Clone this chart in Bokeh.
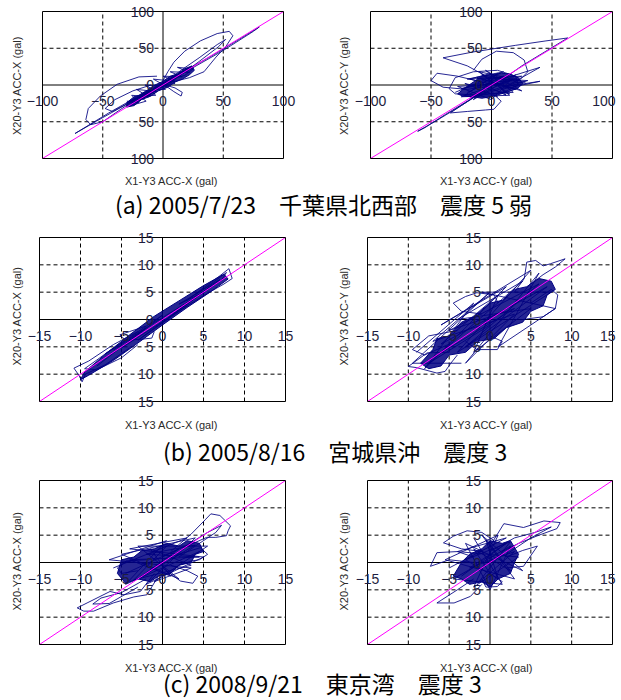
from bokeh.plotting import figure
from bokeh.layouts import column, row
from bokeh.models import (Div, LinearAxis, FixedTicker, Range1d, BoxAnnotation,
                          LabelSet, ColumnDataSource)
from bokeh.core.properties import value
from bokeh.embed import file_html
from bokeh.resources import INLINE

# ---------------- data ----------------
ticks_a = [-100, -50, 0, 50, 100]
grid_a = [-50, 50]
diag_a = [-100, 100]
ticks_bc = [-15, -10, -5, 0, 5, 10, 15]
grid_bc = [-10, -5, 5, 10]
diag_bc = [-15, 15]

captions = ["(a) 2005/7/23\u3000千葉県北西部\u3000震度 5 弱",
            "(b) 2005/8/16\u3000宮城県沖\u3000震度 3",
            "(c) 2008/9/21\u3000東京湾\u3000震度 3"]
xlabels = ["X1-Y3 ACC-X (gal)", "X1-Y3 ACC-Y (gal)", "X1-Y3 ACC-X (gal)",
           "X1-Y3 ACC-Y (gal)", "X1-Y3 ACC-X (gal)", "X1-Y3 ACC-X (gal)"]
ylabels = ["X20-Y3 ACC-X (gal)", "X20-Y3 ACC-Y (gal)", "X20-Y3 ACC-X (gal)",
           "X20-Y3 ACC-Y (gal)", "X20-Y3 ACC-X (gal)", "X20-Y3 ACC-X (gal)"]

# (a) X direction
ax_core_x = [-30, -24, -20, -12, -8, 0, 6, 12, 18, 24, 26, 22, 16, 10, 4, -4, -10, -18, -24, -30]
ax_core_y = [-24, -16, -14, -6, -1, 5, 12, 15, 22, 26, 20, 14, 8, 4, -3, -8, -15, -20, -28, -30]
ax_loops_x = [
    [-5, -30, -55, -73, -70, -45, -15, 15, 45, 70, 80, 75, 50, 20, -5],
    [0, 4, 9, 18, 31, 45, 55, 58, 52, 44, 40, 34, 22, 10, 0],
    [5, 15, 30, 45, 52, 46, 30, 15, 5],
    [-5, -20, -38, -52, -62, -64, -60, -50, -35, -20, -8, 0],
    [-10, -25, -40, -48, -42, -28, -12],
    [2, 10, 16, 15, 9, 3],
    [-25, -10, -28, 0, -18, 12, -8, 20, -2, 24, 5, 18, -12, 10, -20, 4, -26, -6, -30, -14, 8, -4, 15, 0, 22, 6],
    [-30, -20, -26, -12, -22, -5, -15, 3, -8, 10, 0, 16, 6, 22, 12, 25, 18, 5, 10, -3, 2, -12, -6, -20, -14, -27],
]
ax_loops_y = [
    [-3, -26, -49, -66, -63, -38, -10, 16, 44, 69, 79, 73, 47, 19, -3],
    [6, 18, 31, 46, 60, 70, 73, 67, 52, 38, 30, 18, 10, 5, 1],
    [8, 20, 37, 55, 62, 52, 32, 14, 4],
    [12, 11, 1, -15, -32, -47, -54, -50, -33, -17, -5, 3],
    [0, -8, -20, -32, -36, -24, -8],
    [0, -4, -10, -15, -9, -2],
    [-20, -12, -28, 2, -15, 14, -8, 22, -4, 25, 3, 20, -14, 12, -22, 6, -25, -8, -24, -12, 10, -2, 18, 0, 24, 2],
    [-22, -24, -14, -16, -6, -9, 0, -2, 8, 5, 12, 11, 18, 17, 24, 22, 13, 8, 2, 0, -6, -6, -14, -15, -22, -28],
]

# (a) Y direction
ay_core_x = [-28, -22, -15, -8, 0, 8, 15, 22, 26, 22, 16, 8, 0, -8, -16, -24]
ay_core_y = [-12, -4, 4, 12, 14, 16, 15, 10, 2, -4, -8, -12, -16, -18, -16, -15]
ay_loops_x = [
    [0, -20, -40, -15, 20, 45, 63, 45, 25, 8],
    [-15, -8, 4, 18, 27, 30, 24, 12, 0],
    [5, 40, 12, 40, 8],
    [-8, -28, -45, -50, -40, -20, -5],
    [-35, -30, -15, 5, 20, 22, 10, -10, -30, -35],
    [-8, -25, -45, -61, -55, -38, -18, -5],
    [-10, -25, -34, -20, -5, 2, 8, 0],
    [-20, 10, -25, 18, -15, 22, -8, 15, -22, 5, -12, 20, -18, 0, 12, -5],
    [-30, 10, -20, 25, -25, 15, -10, 28, -28, 0, 20, -15, 5, -22, 18, -5, 25, -12, 30, -18],
]
ay_loops_y = [
    [8, 26, 37, 45, 54, 60, 64, 46, 26, 6],
    [20, 35, 46, 44, 34, 18, 8, 4, 6],
    [6, 24, -2, 5, -6],
    [4, 12, 16, 6, -3, -6, -2],
    [-5, 10, 18, 20, 12, 0, -10, -14, -12, -5],
    [-10, -28, -48, -63, -58, -40, -20, -6],
    [-12, -28, -38, -36, -34, -33, -22, -10],
    [-10, 12, -5, 8, -15, 4, 14, -12, 2, -16, 10, -6, 8, 16, -14, 0],
    [-10, 18, 8, 12, -16, -14, 18, 4, -2, -20, 14, -20, 16, -14, -10, 20, -8, 10, 6, -18],
]

# (b) X direction
bx_core_x = [-9.5, -7, -4, -1, 2, 5, 7.5, 8, 6, 3, 0, -3, -6, -9, -10]
bx_core_y = [-9.6, -6.4, -2.8, 0.6, 3.4, 6.2, 8.3, 7.4, 5.2, 2.2, -1, -4.3, -7.5, -10.2, -11]
bx_loops_x = [
    [3, 5, 7, 8.1, 8.5, 7.5, 5.5, 3],
    [4, 6, 7.8, 7.2, 5, 3],
    [-3, -6, -9, -10.8, -10.2, -9.8, -9.4, -7, -4],
    [-2, -4, -5.2, -4.5, -2.5, -1.3, -1],
    [-6, -8, -9.5, -8, -5, -3],
    [-8, -2, -7, 0, -5, 3, -3, 6, 0, 7, 2, 5, -1, -6],
]
bx_loops_y = [
    [3.5, 5.8, 8.0, 9.3, 7.5, 6.5, 4.8, 2.5],
    [4.5, 6.6, 8.6, 7.2, 5.0, 2.8],
    [-2.2, -4.6, -7.6, -8.9, -10.2, -11.4, -10.0, -8.3, -5.2],
    [-1.2, -2.2, -2.8, -3.8, -3.6, -3.4, -2.2],
    [-5.2, -7.4, -9.0, -9.2, -7.0, -4.6],
    [-8.5, -1.5, -6.3, 0.8, -5.2, 2.5, -3.8, 6.2, -0.5, 7.3, 2.8, 5.0, -0.6, -5.6],
]

# (b) Y direction
by_core_x = [-8.5, -7, -6.5, -5, -3.5, -2, 0, 1.5, 3, 4.5, 6, 7.5, 8, 7, 6.5, 5, 4, 2, 0.5, -1.5, -3, -5, -6, -7.5]
by_core_y = [-8, -5.5, -3.5, -3, -0.5, 0.5, 3, 3.5, 5.5, 6, 7.5, 7, 5.5, 4.5, 2.5, 1.5, -0.5, -1.5, -3.5, -4, -6, -6.5, -8.5, -9]
by_loops_x = [
    [3, 4.2, 4.5, 5.6, 6.5, 7.4, 9.2, 8, 6.5, 5],
    [5, 7.5, 8.3, 8, 6.5, 4],
    [-1, -3.5, -4.5, -3, -1.6, 0.5, 1],
    [-4, -7.5, -9.5, -8, -5],
    [-5, -7.7, -10, -9, -6.5, -5.5, -4.8, -4],
    [-3, -1.6, 0.9, 1.5, 0],
    [-7, 3, -5, 6, -3, 7, -6, 1, -2, 5, -4, 4, -7.5, 0],
    [-9, -2, -8, 2, -6, 5, -4, 7.5, -1, 8, 1, 6, -3, 3, -7, 0, -9.5, -3.5],
]
by_loops_y = [
    [5, 7.5, 10.5, 10.8, 9.8, 10.2, 11.1, 9.6, 8.2, 6.5],
    [3, 5.5, 4.5, 2.0, 0.5, 0],
    [1, 1.5, 3, 4.2, 4.9, 4.5, 3],
    [-2, -3, -5.5, -6.5, -4.5],
    [-6, -6.1, -8.6, -8.8, -9.8, -9.5, -8, -6.5],
    [-4, -5.5, -5.5, -4, -3],
    [-7, 2, -2, 6.5, -5, 6, -4.5, 4.5, -6, 2, 0, 7, -8, -1],
    [-6, 3, -9, 6, -1, 9, -6, 5, 5, 2, -5, 8.5, -8, 1, -4, 5, -8, -8],
]

# (c) left
cx_core_x = [-5.5, -5, -3.5, -2.5, -1, 0.5, 2, 3, 4.5, 5, 4, 3.5, 2, 1, -0.5, -1.5, -3, -4.5]
cx_core_y = [-2, 0.5, 1, 2.2, 2.5, 3.5, 3, 4, 3.5, 2, 1.5, 0, -0.5, -2, -2.5, -3.5, -3, -3.8]
cx_loops_x = [
    [1, 3.5, 5.2, 5.9, 7, 8.3, 8.0, 7.8, 6.5, 5.4, 3, 1],
    [0, 3, 5.5, 7.2, 6.5, 4.5, 2],
    [2, 4.6, 5.5, 4.5, 3.6, 2],
    [0, 2.2, 3.7, 4.3, 3, 1],
    [-2, -4.4, -5.5, -5.0, -3],
    [-1, -2.7, -4.7, -6.4, -9.2, -10.4, -9.6, -8.4, -6, -3.5, -1.9, -0.5],
    [-2, -5, -7.5, -8.5, -6.5, -3],
    [-4.5, 2, -3, 4, -2, 4.5, -4, 1, -1.5, 3.5, -3.5, 0.5],
    [-6, 3, -4, 5, -2, 4, -5, 2, -3, 5.5, -1, 3.5, -6.5, 0.5, -4.5, 4.5],
]
cx_loops_y = [
    [2, 5.2, 7.8, 8.9, 8.6, 6.7, 5.8, 4.9, 4.6, 4.6, 3, 1],
    [1, 3.2, 5.5, 6.8, 5.5, 3.5, 1],
    [1.5, 2.7, 1.5, 0.5, 0.3, -0.5],
    [-1, -3.4, -3.8, -2.5, -1.5, -0.5],
    [0.5, 0.3, -1, -2, -1.5],
    [-2, -5.3, -5.9, -5.3, -7.4, -8.3, -8.9, -8.9, -7.4, -6.3, -5.9, -2.5],
    [-3, -5.5, -6.5, -7.6, -7.5, -4.5],
    [-2, 2.5, -3, 3.2, 1.5, 1, 0.5, -2.5, 2.5, -0.5, -3.2, 3],
    [-1, 4.5, 2.5, 1, -4, 4.5, 1.5, -3, 3, 3, -3.5, -1, 0.5, 4, -4, 2],
]

# (c) right
cy_core_x = [-4.5, -3.5, -2.5, -1, 0, 1.5, 2.5, 3.5, 3, 2.5, 1, 0, -1, -2.5, -3.5]
cy_core_y = [-2.5, 0, 1.5, 2.5, 4, 3.5, 4, 1.5, 0, -2, -3, -4.5, -3.5, -4, -3]
cy_loops_x = [
    [0, 1.7, 4.1, 6.6, 8.6, 8.2, 6, 3.5, 1.5],
    [0, 3, 5.5, 7.5, 5, 2],
    [-1, -3.5, -5.7, -4.5, -2.8, -1, 0.5],
    [-2, -5, -7.3, -6.5, -4, -2],
    [-2, -4, -6.5, -4.4, -2.4, -1],
    [2, 4, 5.8, 4.1, 2],
    [0, 1.5, 0.9, -0.5, -1],
    [-3.5, 2, -2.5, 3, -1.5, 2.5, -3, 1, -0.5, 2.5, -2, 0],
    [-5, 2, -4, 3.5, -2, 1, -5.5, 3, -1, 4, -3, 0, 2.5, -4.5, 1.5, -2],
]
cy_loops_y = [
    [3, 7.1, 6.4, 7.6, 7.3, 6.2, 5, 3.5, 2],
    [2, 4.5, 5.5, 6.5, 4.5, 1.5],
    [2, 2.5, 3.6, 4.8, 5.8, 5.5, 4],
    [0, 0.5, -0.7, 1.8, 2, 1],
    [-3, -5, -7.4, -7.4, -6.2, -4],
    [1, 2.2, 3, -0.7, -1],
    [-2, -3.5, -4.4, -4.5, -3],
    [-2.5, 3.5, -1, 2, -3.8, 3.8, 0.5, -3, 4.2, -1.5, 2.5, -2],
    [-1, 4.5, 2, 1, -4.5, 5, 0.5, -3, 5, -1.5, 3.5, -5, 3, -3, -4, 4.5],
]

# ---------------- styling ----------------
NAVY = "#000080"
TICK_COLOR = "#1e1e40"
LABEL_COLOR = "#2a2a2a"
TICK_FONT = "Liberation Sans"


def abs_labels(ticks):
    return [str(abs(t)) for t in ticks]


def signed_labels(ticks):
    return [("\u2212" + str(abs(t))) if t < 0 else str(t) for t in ticks]


def panel(W, H, bl, bb, box, ticks, grid_ticks, diag, xlabel, ylabel,
          core_x, core_y, loops_x, loops_y, xstand, ystand, edge_right=False):
    # box = pixel position of the plotted square inside the figure (left, right, top, bottom)
    bx0, bx1, by0, by1 = box
    lo, lim = ticks[0], ticks[-1]
    sx = (bx1 - bx0) / (lim - lo)
    sy = (by1 - by0) / (lim - lo)
    fb = H - bb
    xr = Range1d(lo - (bx0 - bl) / sx, lim + (W - bx1) / sx)
    yr = Range1d(lo - (fb - by1) / sy, lim + by0 / sy)
    p = figure(width=W, height=H, x_range=xr, y_range=yr,
               x_axis_location=None, y_axis_location=None, toolbar_location=None,
               output_backend="svg", min_border_left=bl, min_border_right=0,
               min_border_top=0, min_border_bottom=bb)
    for g in p.grid:
        g.visible = False
    p.outline_line_color = None
    p.background_fill_color = "white"
    p.border_fill_color = "white"

    n = len(grid_ticks)
    p.segment(x0=grid_ticks, y0=[lo] * n, x1=grid_ticks, y1=[lim] * n,
              line_color="black", line_dash="4 3", line_width=1)
    p.segment(x0=[lo] * n, y0=grid_ticks, x1=[lim] * n, y1=grid_ticks,
              line_color="black", line_dash="4 3", line_width=1)
    p.segment(x0=[0, lo], y0=[lo, 0], x1=[0, lim], y1=[lim, 0],
              line_color="black", line_width=1)

    p.patch(core_x, core_y, fill_color=NAVY, fill_alpha=0.85, line_color=NAVY, line_width=1)
    p.multi_line(loops_x, loops_y, line_color=NAVY, line_width=1, line_alpha=0.85)
    p.line(diag, diag, line_color="#FF00FF", line_width=1)

    p.add_layout(BoxAnnotation(left=lo, right=lim, bottom=lo, top=lim, fill_color=None,
                               line_color="black", line_width=1, line_alpha=1))

    # tick labels along the zero lines
    xl_text = signed_labels(ticks)
    main = len(ticks) - 1 if edge_right else len(ticks)
    lab_style = dict(text_font=value(TICK_FONT), text_font_size=value("14px"),
                     text_color=TICK_COLOR)
    xsrc = ColumnDataSource(dict(x=ticks[:main], y=[0] * main, t=xl_text[:main]))
    p.add_layout(LabelSet(x="x", y="y", text="t", source=xsrc, y_offset=-11,
                          text_align="center", text_baseline="top", **lab_style))
    if edge_right:
        esrc = ColumnDataSource(dict(x=ticks[main:], y=[0], t=xl_text[main:]))
        p.add_layout(LabelSet(x="x", y="y", text="t", source=esrc, y_offset=-11, x_offset=3,
                              text_align="right", text_baseline="top", **lab_style))
    ysrc = ColumnDataSource(dict(x=[0] * len(ticks), y=ticks, t=abs_labels(ticks)))
    p.add_layout(LabelSet(x="x", y="y", text="t", source=ysrc, x_offset=-9,
                          text_align="right", text_baseline="middle", **lab_style))

    lab = dict(ticker=FixedTicker(ticks=[]), axis_line_color=None,
               major_tick_line_color=None, minor_tick_line_color=None,
               axis_label_text_font=TICK_FONT, axis_label_text_font_size="11px",
               axis_label_text_font_style="normal", axis_label_text_color=LABEL_COLOR)
    xl = LinearAxis(axis_label=xlabel, axis_label_standoff=xstand, **lab)
    yl = LinearAxis(axis_label=ylabel, axis_label_standoff=ystand, **lab)
    p.add_layout(xl, "below")
    p.add_layout(yl, "left")
    return p


def caption(text, h, lh, pad):
    html = (f'<div style="padding-left:{pad}px; line-height:{lh}px; white-space:nowrap;'
            f' overflow:visible; font-family:\'Noto Sans CJK JP\'; font-size:23px;'
            f' color:black;">{text}</div>')
    return Div(text=html, width=621, height=h, margin=0,
               styles={"overflow": "visible"})


pa1 = panel(318, 190, 24, 20, (42, 283, 11, 158), ticks_a, grid_a, diag_a,
            xlabels[0], ylabels[0], ax_core_x, ax_core_y, ax_loops_x, ax_loops_y, 4, 2)
pa2 = panel(303, 190, 33, 20, (52, 294, 11, 158), ticks_a, grid_a, diag_a,
            xlabels[1], ylabels[1], ay_core_x, ay_core_y, ay_loops_x, ay_loops_y, 4, 2,
            edge_right=True)
pb1 = panel(318, 219, 24, 24, (39, 285, 19, 183), ticks_bc, grid_bc, diag_bc,
            xlabels[2], ylabels[2], bx_core_x, bx_core_y, bx_loops_x, bx_loops_y, 5, 2)
pb2 = panel(303, 219, 33, 24, (49, 294, 19, 183), ticks_bc, grid_bc, diag_bc,
            xlabels[3], ylabels[3], by_core_x, by_core_y, by_loops_x, by_loops_y, 5, 2,
            edge_right=True)
pc1 = panel(318, 211, 24, 20, (39, 285, 15, 179), ticks_bc, grid_bc, diag_bc,
            xlabels[4], ylabels[4], cx_core_x, cx_core_y, cx_loops_x, cx_loops_y, 5, 2)
pc2 = panel(303, 211, 33, 20, (49, 294, 15, 179), ticks_bc, grid_bc, diag_bc,
            xlabels[5], ylabels[5], cy_core_x, cy_core_y, cy_loops_x, cy_loops_y, 5, 2,
            edge_right=True)

cap_a = caption(captions[0], 28, 28, 115)
cap_b = caption(captions[1], 28, 28, 163)
cap_c = caption(captions[2], 24, 14, 163)

layout = column(row(pa1, pa2), cap_a, row(pb1, pb2), cap_b, row(pc1, pc2), cap_c)

open("out.html", "w").write(file_html(layout, INLINE))
